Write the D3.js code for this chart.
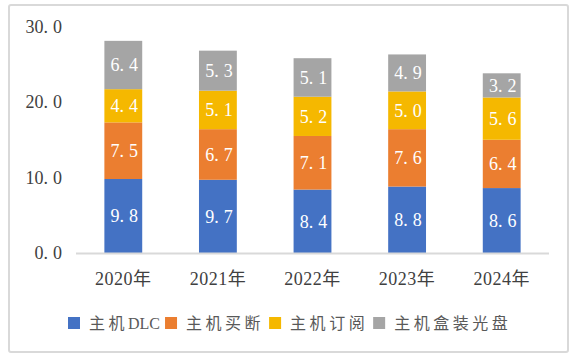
<!DOCTYPE html>
<html>
<head>
<meta charset="utf-8">
<script src="https://cdn.jsdelivr.net/npm/d3@7"></script>
<style>
  html, body { margin: 0; padding: 0; background: #fff; }
  svg { display: block; }
  text { font-family: "Liberation Serif", "Noto Sans CJK SC", serif; }
</style>
</head>
<body>
<div id="chart"></div>
<script>
const years = ["2020年", "2021年", "2022年", "2023年", "2024年"];
const seriesNames = ["主机DLC", "主机买断", "主机订阅", "主机盒装光盘"];
const dlc = [9.8, 9.7, 8.4, 8.8, 8.6];
const buyout = [7.5, 6.7, 7.1, 7.6, 6.4];
const subscription = [4.4, 5.1, 5.2, 5.0, 5.6];
const disc = [6.4, 5.3, 5.1, 4.9, 3.2];
const yTicks = [0, 10, 20, 30];
const colors = ["#4472C4", "#EB7E30", "#F5B800", "#A5A5A5"];

const width = 576, height = 361;
const margin = {top: 26.5, left: 76, right: 27, bottom: 108};

const svg = d3.select("#chart").append("svg")
    .attr("width", width)
    .attr("height", height);

// outer frame
svg.append("rect")
    .attr("x", 9).attr("y", 5)
    .attr("width", 559).attr("height", 347)
    .attr("rx", 2)
    .attr("fill", "#fff")
    .attr("stroke", "#d9d9d9")
    .attr("stroke-width", 2);

const x = d3.scaleBand()
    .domain(years)
    .range([margin.left, width - margin.right])
    .paddingInner(0.6)
    .paddingOuter(0.3);

const y = d3.scaleLinear()
    .domain([0, 30])
    .range([height - margin.bottom, margin.top]);

const rows = years.map((yr, i) => ({
    year: yr, s0: dlc[i], s1: buyout[i], s2: subscription[i], s3: disc[i]
}));
const stack = d3.stack().keys(["s0", "s1", "s2", "s3"]);
const layers = stack(rows);

// writes "9.8" as "9." + spaced "8", like the original wide period
function decimalText(sel, v, gap) {
    const s = v.toFixed(1).split(".");
    sel.append("tspan").text(s[0] + ".");
    sel.append("tspan").attr("dx", gap).text(s[1]);
}

// y tick labels
const yAxis = svg.append("g");
yTicks.forEach(t => {
    const tx = yAxis.append("text")
        .attr("x", 62)
        .attr("y", y(t))
        .attr("dy", "0.35em")
        .attr("text-anchor", "end")
        .attr("font-size", 18)
        .attr("fill", "#404040");
    decimalText(tx, t, 5);
});

// bars
layers.forEach((layer, k) => {
    const g = svg.append("g").attr("fill", colors[k]);
    g.selectAll("rect")
        .data(layer)
        .join("rect")
        .attr("x", d => x(d.data.year))
        .attr("y", d => y(d[1]))
        .attr("width", x.bandwidth())
        .attr("height", d => y(d[0]) - y(d[1]));

    g.selectAll("text")
        .data(layer)
        .join("text")
        .attr("x", d => x(d.data.year) + x.bandwidth() / 2 + 1)
        .attr("y", d => (y(d[0]) + y(d[1])) / 2)
        .attr("dy", "0.35em")
        .attr("text-anchor", "middle")
        .attr("font-size", 18)
        .attr("fill", "#fff")
        .each(function(d) { decimalText(d3.select(this), d[1] - d[0], 5); });
});

// x axis line
svg.append("line")
    .attr("x1", margin.left).attr("x2", width - margin.right)
    .attr("y1", y(0) + 0.5).attr("y2", y(0) + 0.5)
    .attr("stroke", "#d9d9d9")
    .attr("stroke-width", 2);

svg.append("g").selectAll("text")
    .data(years)
    .join("text")
    .attr("x", d => x(d) + x.bandwidth() / 2)
    .attr("y", 279)
    .attr("dy", "0.35em")
    .attr("text-anchor", "middle")
    .attr("font-size", 18)
    .attr("letter-spacing", 0.5)
    .attr("fill", "#404040")
    .text(d => d);

// legend
const legend = svg.append("g");
let lx = 68;
seriesNames.forEach((name, k) => {
    legend.append("rect")
        .attr("x", lx).attr("y", 317)
        .attr("width", 12).attr("height", 12)
        .attr("fill", colors[k]);
    const t = legend.append("text")
        .attr("x", lx + 21)
        .attr("y", 323)
        .attr("dy", "0.35em")
        .attr("font-size", 16)
        .attr("fill", "#595959");
    // CJK characters are spaced out, Latin letters stay tight
    name.match(/[A-Za-z]+|[^A-Za-z]/g).forEach(part => {
        t.append("tspan")
            .attr("letter-spacing", /[A-Za-z]/.test(part) ? 0 : 3.5)
            .text(part);
    });
    lx += 21 + t.node().getComputedTextLength() + 5;
});
</script>
</body>
</html>
